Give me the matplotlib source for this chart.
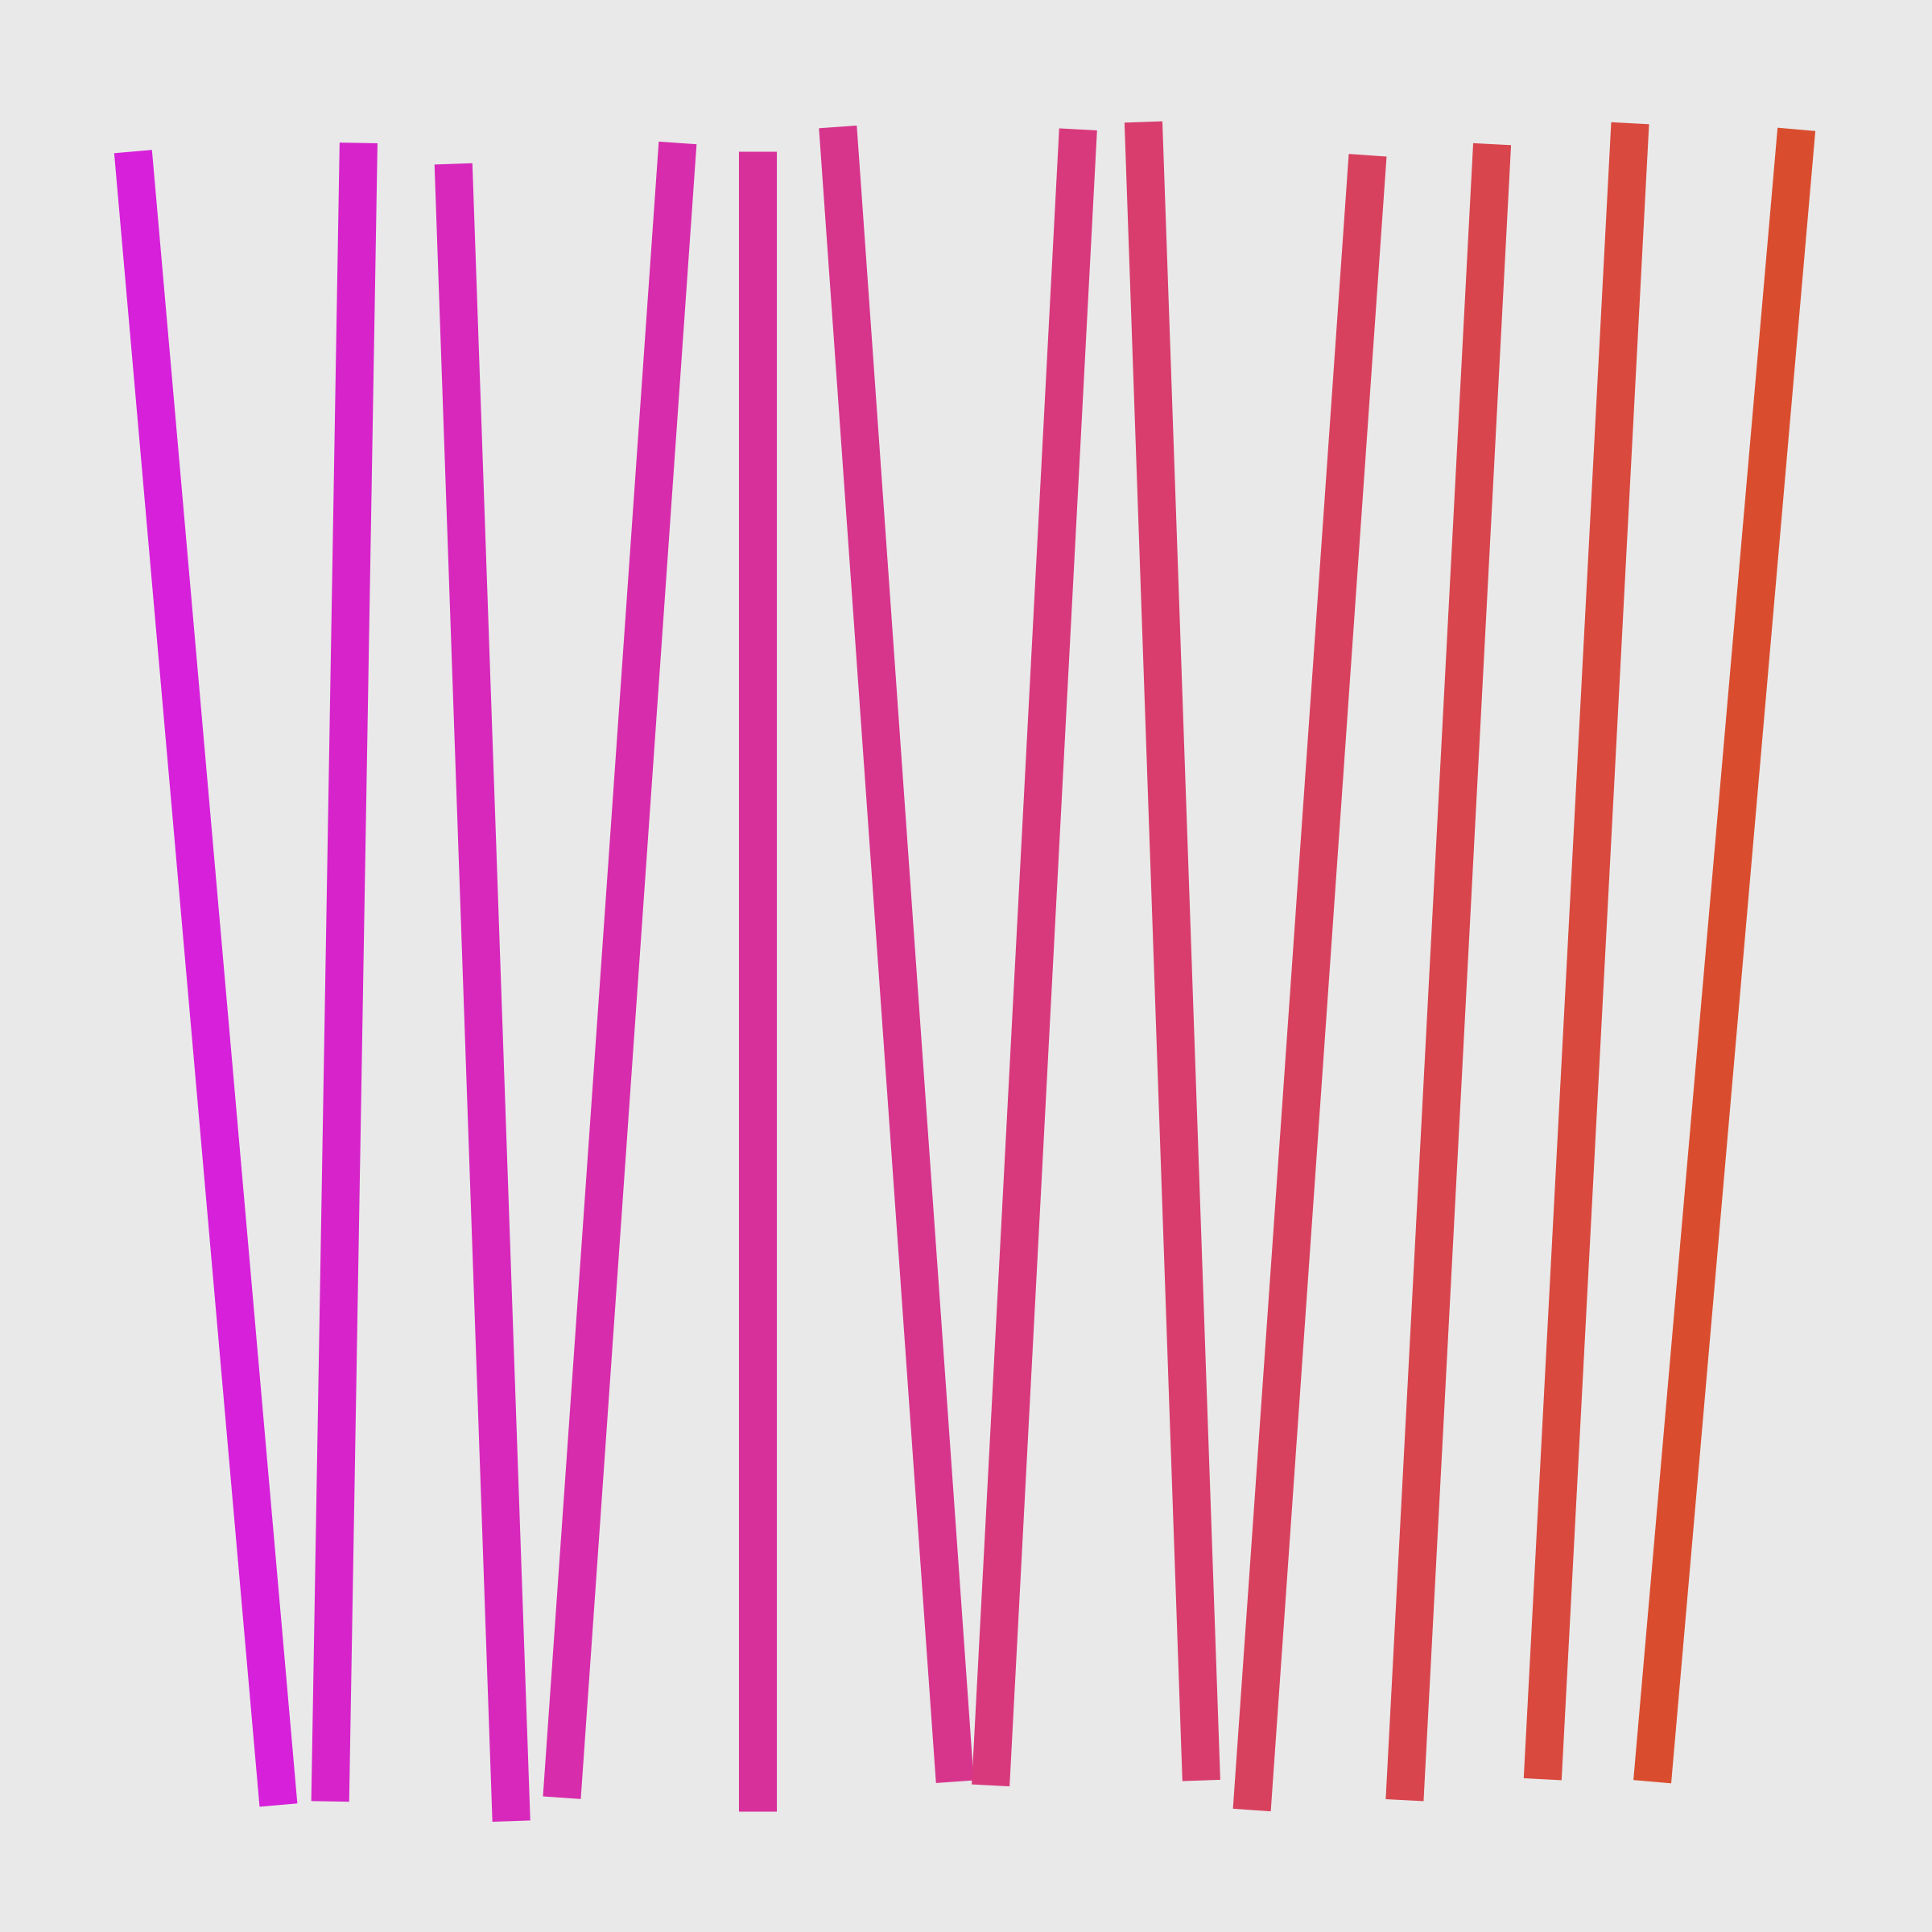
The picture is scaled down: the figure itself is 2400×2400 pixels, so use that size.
import numpy as np
import matplotlib
matplotlib.use("Agg")
from matplotlib import pyplot as plt
from matplotlib.colors import to_rgb

# end points of the strokes (canvas units, y down)
x_top = [108, 291, 368, 550, 615, 680, 875, 928, 1110, 1211, 1323, 1458]
y_top = [123, 116, 133, 116, 123, 103, 105, 99, 126, 117, 100, 105]
x_bot = [226, 268, 415, 456, 615, 775, 804, 975, 1016, 1140, 1252, 1341]
y_bot = [1465, 1462, 1478, 1459, 1470, 1446, 1449, 1445, 1469, 1461, 1444, 1446]

c_start = np.array(to_rgb("#d620da"))
c_end = np.array(to_rgb("#d94d2e"))

fig = plt.figure(figsize=(8, 8), dpi=300, facecolor="#e9e9e9")
ax = fig.add_axes([0, 0, 1, 1])
ax.set_facecolor("#e9e9e9")

n = len(x_top)
for i in range(n):
    t = i / (n - 1)
    col = c_start * (1 - t) + c_end * t
    ax.plot([x_top[i], x_bot[i]], [y_top[i], y_bot[i]], color=col,
            linewidth=11.3, solid_capstyle="butt")

ax.set_xlim(0, 1568)
ax.set_ylim(1568, 0)
ax.axis("off")
fig.savefig("out.png", dpi=300, facecolor="#e9e9e9")
